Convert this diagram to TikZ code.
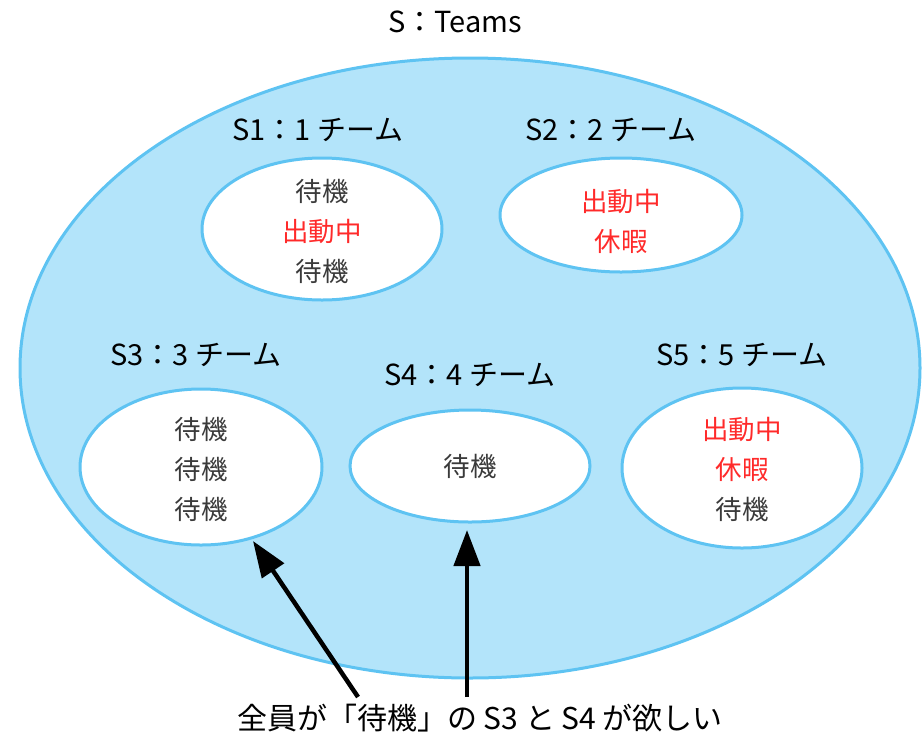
\documentclass[tikz,border=0pt]{standalone}
\usepackage{fontspec}
\setmainfont{Noto Sans CJK JP}
\usetikzlibrary{arrows.meta}
\definecolor{bgblue}{HTML}{B3E4FA}
\definecolor{edgeblue}{HTML}{5EC3F2}
\definecolor{redtxt}{HTML}{FF2A2A}
\definecolor{graytxt}{HTML}{3A3A3A}
\tikzset{
  team/.style={draw=edgeblue, line width=3pt, fill=white},
  lbl/.style={font=\fontsize{29}{32}\selectfont, text=black, inner sep=0pt},
  notestyle/.style={font=\fontsize{30}{32}\selectfont, text=black, inner sep=0pt},
  inner/.style={font=\fontsize{26.5}{40}\selectfont, align=center, inner sep=0pt},
  bigarrow/.style={line width=4.5pt, -{Triangle[length=36pt,width=26pt]}},
}
\newcommand{\red}[1]{\textcolor{redtxt}{#1}}
\newcommand{\gry}[1]{\textcolor{graytxt}{#1}}
\begin{document}
\begin{tikzpicture}[x=1pt,y=-1pt]
\useasboundingbox (0,0) rectangle (923,737);
% big set
\draw[fill=bgblue, draw=edgeblue, line width=3pt] (470,368) ellipse [x radius=450, y radius=310];
\node[lbl] (title) at (455,22) {S：Teams};
% S1
\node[lbl] (l1) at (318,130) {S1：1 チーム};
\draw[team] (322,229) ellipse [x radius=120, y radius=71];
\node[inner] (t1) at (322,231) {\gry{待機}\\\red{出動中}\\\gry{待機}};
% S2
\node[lbl] (l2) at (611,130) {S2：2 チーム};
\draw[team] (621,215) ellipse [x radius=121, y radius=57];
\node[inner] (t2) at (621,221) {\red{出動中}\\\red{休暇}};
% S3
\node[lbl] (l3) at (196,355) {S3：3 チーム};
\draw[team] (201,467) ellipse [x radius=121, y radius=78];
\coordinate (s3b) at (253,541);
\node[inner] (t3) at (201,469) {\gry{待機}\\\gry{待機}\\\gry{待機}};
% S4
\node[lbl] (l4) at (470,375) {S4：4 チーム};
\draw[team] (470,466) ellipse [x radius=120, y radius=56];
\coordinate (s4b) at (467,530);
\node[inner] (t4) at (470,466) {\gry{待機}};
% S5
\node[lbl] (l5) at (742,355) {S5：5 チーム};
\draw[team] (742,468) ellipse [x radius=120, y radius=80];
\node[inner] (t5) at (742,469) {\red{出動中}\\\red{休暇}\\\gry{待機}};
% bottom text and arrows
\node[notestyle] (note) at (480,718) {全員が「待機」の S3 と S4 が欲しい};
\coordinate (a1) at (358,697);
\coordinate (a2) at (467,697);
\draw[bigarrow] (a1) -- (s3b);
\draw[bigarrow] (a2) -- (s4b);
\end{tikzpicture}
\end{document}
